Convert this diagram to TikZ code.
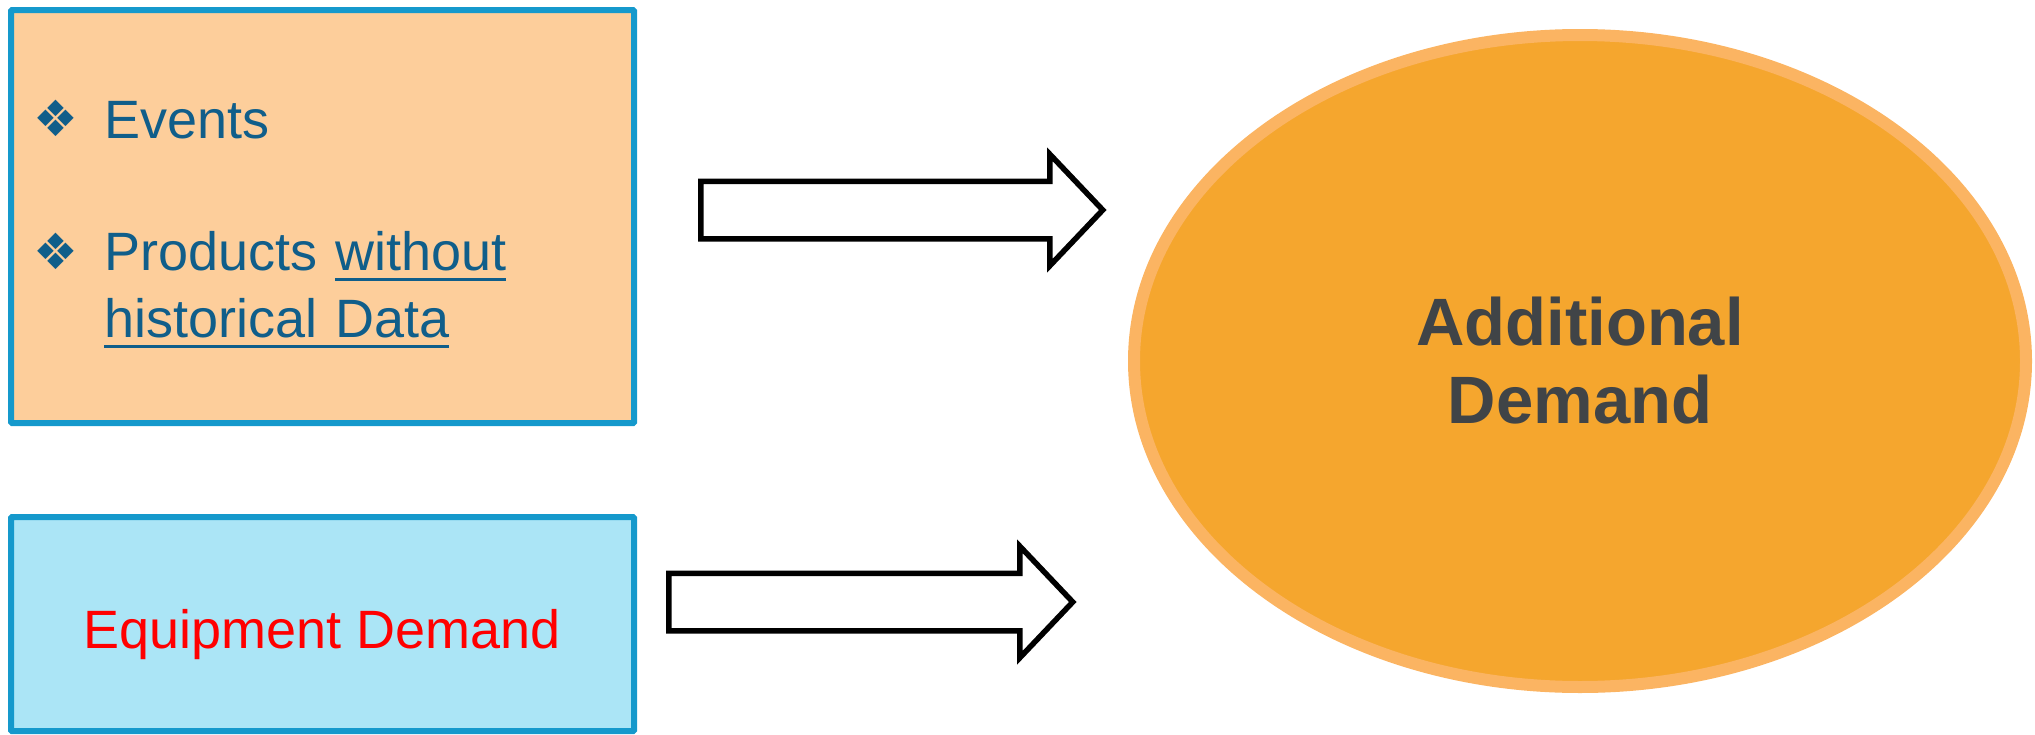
\documentclass[tikz,border=0pt]{standalone}
\usepackage{fontspec}
\setmainfont{Liberation Sans}
\newfontfamily\dejavu{DejaVu Sans}
\usetikzlibrary{shapes.geometric,shapes.arrows}
\definecolor{peach}{RGB}{253,206,155}
\definecolor{skyblue}{RGB}{171,229,246}
\definecolor{boxline}{RGB}{21,153,204}
\definecolor{itemblue}{RGB}{16,94,138}
\definecolor{ovalfill}{RGB}{245,166,46}
\definecolor{ovalline}{RGB}{251,180,98}
\definecolor{demandgray}{RGB}{64,68,71}
\newcommand{\undl}[1]{\leavevmode\setbox0\hbox{#1}\rlap{\rule[-11pt]{\wd0}{3pt}}\box0}

\begin{document}
\begin{tikzpicture}[x=1pt, y=-1pt,
    box/.style={draw=boxline, line width=6pt, rounded corners=1pt, inner sep=0pt, minimum width=623pt},
    item/.style={anchor=base west, inner sep=0pt, text=itemblue, font=\fontsize{54}{67}\selectfont},
    bul/.style={inner sep=0pt, text=itemblue, font=\dejavu\fontsize{50}{50}\selectfont},
    blockarrow/.style={single arrow, draw=black, fill=white, line width=5.5pt, inner sep=0pt, inner ysep=26pt,
      single arrow head extend=27pt, single arrow tip angle=93, minimum width=106pt, anchor=tail}
    ]
    \useasboundingbox (0,0) rectangle (2035,734);
    \node[ellipse, draw=ovalline, fill=ovalfill, line width=12pt, minimum width=892pt, minimum height=652pt,
      inner sep=0pt, align=center, text=demandgray, font=\bfseries\fontsize{67}{78}\selectfont] (ad) at (1580,361) {Additional\\Demand};
    \node[box, fill=peach, minimum height=413pt] (ev) at (322.5,216.5) {};
    \node[box, fill=skyblue, minimum height=214pt] (eq) at (322.5,624) {};
    \node[bul] (b1) at (55.5,118) {❖};
    \node[item] (t1) at (104,138) {Events};
    \node[bul] (b2) at (55.5,251) {❖};
    \node[item, text width=440pt, align=left] (t2) at (104,270) {Products \undl{without}\\\undl{historical Data}};
    \node[anchor=base, inner sep=0pt, text=red, font=\fontsize{54}{67}\selectfont] (t3) at (322.5,648) {Equipment Demand};
    \node[blockarrow, minimum height=402pt] (a1) at (698,210) {};
    \node[blockarrow, minimum height=404pt] (a2) at (666,602) {};
\end{tikzpicture}
\end{document}
